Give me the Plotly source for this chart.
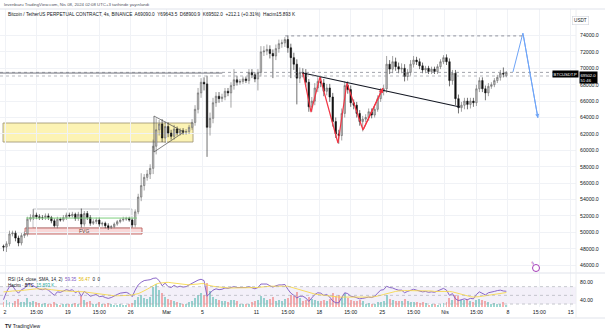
import plotly.graph_objects as go

# ---------------------------------------------------------------
# BTCUSDT.P (Binance perpetual) - 8-hour candles, 11 Feb 16:00 -> 7 Apr 16:00
# values in USDT, three candles per calendar day
# ---------------------------------------------------------------
first_open = 48300.0
last_open = 69090.0

closes = [
    48200,
    48600, 49800, 49900,    # 12 Feb
    49300, 48700, 49600,    # 13
    49800, 51600, 51800,    # 14
    52100, 51900, 51800,    # 15
    51800, 52000, 51800,    # 16
    51400, 50800, 51600,    # 17
    51500, 51800, 52100,    # 18
    52000, 52200, 51700,    # 19
    52200, 51000, 52300,    # 20
    51800, 51100, 51300,    # 21
    51500, 51000, 51100,    # 22
    50800, 50600, 50700,    # 23
    51000, 51300, 51500,    # 24
    51600, 51700, 51500,    # 25
    50900, 52500, 54300,    # 26
    55700, 56700, 57100,    # 27
    57800, 60500, 62500,    # 28
    63200, 61500, 62900,    # 29
    62100, 61700, 62600,    # 1 Mar
    62100, 62400, 62200,    # 2
    62300, 62800, 63400,    # 3
    65000, 67000, 68300,    # 4
    68100, 62800, 63900,    # 5
    65800, 66600, 66300,    # 6
    66500, 67200, 67000,    # 7
    67900, 68600, 68300,    # 8
    68400, 68700, 68500,    # 9
    69500, 69200, 68700,    # 10
    69500, 72000, 72100,    # 11
    72300, 71800, 71500,    # 12
    72400, 73000, 73100,    # 13
    73500, 72500, 71300,    # 14
    70500, 68800, 69500,    # 15
    69400, 68300, 65300,    # 16
    66000, 67600, 68400,    # 17
    68200, 67200, 67600,    # 18
    66500, 63500, 62000,    # 19
    61800, 64500, 67900,    # 20
    67400, 65800, 65500,    # 21
    64500, 63500, 63800,    # 22
    64000, 64700, 64300,    # 23
    65000, 66300, 67200,    # 24
    67500, 70500, 69900,    # 25
    70800, 70200, 69900,    # 26
    70000, 69000, 69500,    # 27
    70500, 71000, 70800,    # 28
    70300, 69800, 70000,    # 29
    69600, 69900, 69600,    # 30
    70200, 70800, 71300,    # 31
    70800, 68500, 69400,    # 1 Apr
    66300, 65200, 65500,    # 2
    66000, 65600, 66000,    # 3
    65800, 67500, 68500,    # 4
    67500, 67000, 67800,    # 5
    68000, 68500, 68900,    # 6
    69400, 69289.9, 69502,  # 7
]

# distance of the high above the body top / low below the body bottom
wick_up = [
    200,
    300, 400, 300,   300, 300, 300,   300, 300, 400,   700, 300, 300,
    300, 300, 300,   200, 300, 300,   200, 300, 300,   300, 300, 200,
    300, 700, 300,   300, 300, 300,   300, 300, 200,   200, 300, 200,
    200, 200, 200,   300, 200, 200,   200, 300, 400,   1500, 400, 500,
    500, 800, 1400,  500, 600, 600,                                      # 28-29 Feb
    500, 400, 500,   300, 300, 300,   300, 300, 400,   500, 600, 500,    # 1-4 Mar
    600, 1000, 700,  600, 500, 500,   400, 400, 400,   400, 1300, 500,   # 5-8
    300, 300, 300,   400, 400, 300,   400, 700, 600,   600, 500, 500,    # 9-12
    500, 500, 400,   300, 500, 500,   600, 600, 600,   500, 500, 400,    # 13-16
    500, 600, 500,   600, 500, 500,   500, 500, 500,   500, 600, 500,    # 17-20
    500, 500, 400,   400, 400, 400,   400, 400, 400,   300, 400, 400,    # 21-24
    500, 1000, 500,  700, 500, 500,   600, 500, 400,   500, 500, 400,    # 25-28
    400, 400, 300,   300, 300, 300,   300, 300, 300,                     # 29-31
    400, 400, 400,   400, 500, 400,   400, 400, 400,   400, 500, 400,    # 1-4 Apr
    400, 400, 400,   300, 300, 300,   400, 700, 141.5,                   # 5-7
]
wick_dn = [
    500,
    600, 300, 300,   400, 400, 300,   300, 300, 300,   300, 300, 300,
    300, 300, 300,   300, 200, 300,   200, 200, 300,   200, 200, 300,
    300, 400, 300,   300, 300, 200,   300, 300, 300,   300, 300, 200,
    200, 200, 200,   200, 200, 200,   300, 300, 300,   500, 600, 400,
    600, 700, 1000,  700, 500, 600,                                      # 28-29 Feb
    500, 400, 400,   300, 300, 300,   300, 300, 300,   400, 500, 600,    # 1-4 Mar
    800, 3600, 1000, 600, 500, 500,   400, 400, 400,   1800, 500, 400,   # 5-8
    300, 300, 300,   400, 400, 400,   1400, 500, 500,  500, 600, 2700,   # 9-12
    500, 500, 500,   500, 600, 2500,  700, 3200, 600,  500, 500, 600,    # 13-16
    600, 500, 500,   500, 600, 500,   600, 600, 500,   1000, 600, 500,   # 17-20
    500, 500, 500,   500, 500, 1200,  400, 400, 400,   300, 300, 400,    # 21-24
    500, 500, 600,   500, 500, 500,   500, 600, 500,   400, 400, 400,    # 25-28
    400, 400, 400,   300, 300, 300,   300, 300, 300,                     # 29-31
    400, 700, 500,   800, 700, 500,   500, 600, 500,   500, 400, 400,    # 1-4 Apr
    400, 900, 400,   300, 300, 300,   400, 400, 189.1,                   # 5-7
]

# volume, thousands of BTC per candle
volume_k = [
    45,
    60, 40, 35,   55, 70, 40,   45, 80, 40,   50, 40, 35,
    30, 35, 30,   25, 45, 30,   20, 25, 30,   30, 25, 35,
    30, 95, 60,   45, 50, 30,   30, 40, 25,   30, 35, 25,
    15, 20, 25,   15, 20, 25,   35, 60, 90,   110, 80, 70,
    90, 180, 200, 150, 120, 90,
    70, 60, 55,   40, 35, 30,   30, 40, 50,   80, 110, 120,
    110, 210, 140, 90, 70, 60,  50, 55, 45,   60, 65, 50,
    30, 30, 25,   30, 40, 50,   60, 100, 80,  60, 70, 90,
    55, 60, 50,   70, 80, 110,  100, 130, 80, 50, 60, 90,
    70, 60, 55,   50, 60, 55,   70, 120, 100, 110, 90, 120,
    80, 60, 55,   50, 60, 50,   30, 35, 30,   30, 40, 45,
    50, 110, 70,  60, 55, 50,   55, 70, 50,   45, 40, 40,
    35, 40, 35,   20, 25, 25,   20, 30, 35,
    45, 80, 60,   110, 100, 60, 60, 70, 50,   40, 60, 70,
    60, 55, 45,   30, 35, 30,   30, 40, 15.893,
]

# RSI(14) and its SMA(14)
rsi_vals = [
    40,
    58, 70, 72,   62, 55, 63,   66, 75, 76,   72, 67, 64,
    63, 65, 62,   57, 50, 58,   57, 60, 63,   61, 63, 56,
    60, 48, 59,   54, 48, 50,   52, 47, 48,   45, 43, 45,
    49, 52, 55,   56, 57, 54,   47, 62, 74,   80, 84, 85,
    86, 89, 90,   84, 72, 78,
    70, 68, 73,   69, 71, 69,   70, 74, 78,   82, 85, 87,
    84, 48, 55,   62, 65, 63,   64, 67, 66,   68, 70, 68,
    68, 69, 68,   70, 68, 65,   68, 76, 76,   76, 72, 69,
    72, 74, 74,   75, 64, 55,   50, 44, 48,   48, 44, 36,
    44, 52, 56,   55, 50, 52,   46, 37, 33,   33, 45, 56,
    54, 48, 47,   44, 42, 43,   44, 46, 45,   48, 55, 62,
    63, 71, 68,   67, 64, 62,   62, 56, 59,   62, 64, 62,
    60, 58, 59,   57, 58, 57,   60, 63, 66,
    62, 50, 54,   42, 38, 40,   42, 40, 43,   42, 52, 58,
    54, 51, 56,   57, 59, 61,   62, 60, 59.35,
]
rsi_sma = [
    58,
    58, 59, 60,   60, 61, 61,   62, 63, 64,   65, 65, 65,
    65, 64, 64,   63, 62, 61,   60, 60, 60,   59, 59, 59,
    59, 58, 58,   57, 56, 55,   54, 53, 52,   51, 50, 49,
    49, 49, 49,   50, 50, 50,   51, 52, 54,   57, 60, 64,
    68, 72, 76,   78, 79, 80,
    80, 79, 78,   77, 76, 75,   74, 74, 75,   75, 76, 77,
    77, 74, 72,   71, 70, 69,   68, 67, 67,   67, 67, 67,
    67, 67, 67,   67, 67, 67,   68, 69, 70,   71, 71, 71,
    71, 72, 72,   72, 71, 69,   67, 65, 63,   61, 58, 56,
    54, 53, 52,   51, 50, 50,   49, 48, 47,   46, 46, 46,
    46, 46, 46,   46, 45, 45,   45, 45, 46,   47, 48, 50,
    52, 54, 56,   58, 59, 60,   61, 61, 61,   61, 61, 61,
    61, 60, 60,   60, 60, 59,   59, 60, 60,
    60, 59, 58,   56, 54, 52,   50, 48, 47,   46, 46, 47,
    48, 49, 50,   51, 52, 53,   54, 55, 56.47,
]

# time axis: days after 12 Feb 00:00
tick_days = [0, 3.5, 7, 10.5, 14, 18, 22, 28, 31.5, 35, 38.5, 42, 45.5, 49, 52.5, 56, 59.5, 63]
tick_text = ["2", "15:00", "19", "15:00", "26", "Mar", "5", "11", "15:00", "18",
             "15:00", "25", "15:00", "Nis", "15:00", "8", "15:00", "15"]
price_ticks = list(range(46000, 74001, 2000))

# ---------------- user drawings (day, price anchors) ----------------
zone_days, zone_prices = [-0.22, 20.94], [61010, 63330]
triangle_days, triangle_prices = [16.59, 16.59, 19.93], [64180, 59790, 62230]
fvg_days, fvg_prices = [2.23, 15.26], [49790, 50530]
range_days, range_prices = [3.12, 14.14], [50530, 52840]
green_days, green_price = [2.34, 14.7], 51740
trend_days, trend_prices = [33.19, 50.67], [69430, 65280]
zigzag_days = [33.19, 34.08, 35.08, 37.08, 38.08, 39.87, 42.09]
zigzag_prices = [69430, 64670, 68940, 60890, 68210, 62480, 67600]
proj_days, proj_prices = [56.57, 57.68, 59.35], [69550, 74300, 63940]
ath_days, ath_price = [31.2, 57.7], 73950
ray_days, ray_price = [-0.6, 24.2], 69420
level_price = 69060

# ---------------------------------------------------------------
n = len(closes)
for arr in (wick_up, wick_dn, volume_k, rsi_vals, rsi_sma):
    assert len(arr) == n, (len(arr), n)

opens = [first_open] + closes[:-1]
opens[-1] = last_open
highs = [max(o, c) + u for o, c, u in zip(opens, closes, wick_up)]
lows = [min(o, c) - d for o, c, d in zip(opens, closes, wick_dn)]
cx = [-1 / 6 + i / 3 for i in range(n)]
vol_colors = ["rgba(38,166,154,0.45)" if c >= o else "rgba(239,83,80,0.45)"
              for o, c in zip(opens, closes)]

W, H = 605, 332
ML, MR, MT, MB = 0, 29, 9, 25
PW, PH = W - ML - MR, H - MT - MB


def fx(px):
    return (px - ML) / PW


def fy(py):
    return (H - MB - py) / PH


RSI_TOP = fy(273)
TXT = "#131722"
GRID = "#f0f2f6"
FONT = "Liberation Sans"

fig = go.Figure()

fig.add_trace(go.Bar(
    x=cx, y=volume_k, marker=dict(color=vol_colors, line=dict(width=0)),
    width=0.22, xaxis="x2", yaxis="y2", hoverinfo="skip", showlegend=False))

fig.add_trace(go.Candlestick(
    x=cx, open=opens, high=highs, low=lows, close=closes,
    increasing=dict(line=dict(color="#666666", width=0.6), fillcolor="#c4c4c4"),
    decreasing=dict(line=dict(color="#111111", width=0.6), fillcolor="#111111"),
    whiskerwidth=0, xaxis="x", yaxis="y", hoverinfo="skip", showlegend=False))

fig.add_trace(go.Scatter(
    x=cx, y=rsi_vals, mode="lines", line=dict(color="#7e57c2", width=0.9),
    xaxis="x2", yaxis="y3", hoverinfo="skip", showlegend=False))
fig.add_trace(go.Scatter(
    x=cx, y=rsi_sma, mode="lines", line=dict(color="#f7d94c", width=0.9),
    xaxis="x2", yaxis="y3", hoverinfo="skip", showlegend=False))

# red zig-zag, black trend line, blue projection
fig.add_trace(go.Scatter(
    x=zigzag_days, y=zigzag_prices, mode="lines", line=dict(color="#f23645", width=1.2),
    xaxis="x", yaxis="y", hoverinfo="skip", showlegend=False))
fig.add_trace(go.Scatter(
    x=trend_days, y=trend_prices, mode="lines", line=dict(color="#131722", width=1.1),
    xaxis="x", yaxis="y", hoverinfo="skip", showlegend=False))
fig.add_trace(go.Scatter(
    x=proj_days, y=proj_prices, mode="lines", line=dict(color="#6ea4f7", width=1),
    xaxis="x", yaxis="y", hoverinfo="skip", showlegend=False, cliponaxis=False))

shapes = []
# supply/demand zone
shapes.append(dict(type="rect", xref="x", yref="y", x0=zone_days[0], x1=zone_days[1],
                   y0=zone_prices[0], y1=zone_prices[1], fillcolor="rgba(251,236,140,0.65)",
                   line=dict(color="#9a9070", width=0.8), layer="below"))
# triangle
shapes.append(dict(type="path", xref="x", yref="y",
                   path="M {} {} L {} {} L {} {} Z".format(
                       triangle_days[0], triangle_prices[0], triangle_days[1], triangle_prices[1],
                       triangle_days[2], triangle_prices[2]),
                   line=dict(color="#4a4a4a", width=0.7), fillcolor="rgba(0,0,0,0)"))
# range box
shapes.append(dict(type="rect", xref="x", yref="y", x0=range_days[0], x1=range_days[1],
                   y0=range_prices[0], y1=range_prices[1],
                   line=dict(color="#9598a1", width=0.6), fillcolor="rgba(0,0,0,0)", layer="below"))
# FVG box
shapes.append(dict(type="rect", xref="x", yref="y", x0=fvg_days[0], x1=fvg_days[1],
                   y0=fvg_prices[0], y1=fvg_prices[1], fillcolor="rgba(248,206,206,0.8)",
                   line=dict(color="#b5524e", width=0.8), layer="below"))
# green level
shapes.append(dict(type="line", xref="x", yref="y", x0=green_days[0], x1=green_days[1],
                   y0=green_price, y1=green_price, line=dict(color="#7fcf7f", width=1)))
# all-time-high level
shapes.append(dict(type="line", xref="x", yref="y", x0=ath_days[0], x1=ath_days[1],
                   y0=ath_price, y1=ath_price, line=dict(color="#787b86", width=0.8, dash="dot")))
# horizontal ray on the left
shapes.append(dict(type="line", xref="x", yref="y", x0=ray_days[0], x1=ray_days[1],
                   y0=ray_price, y1=ray_price, line=dict(color="#50535e", width=0.8)))
# last price line and nearby level
shapes.append(dict(type="line", xref="paper", yref="y", x0=0, x1=1,
                   y0=closes[-1], y1=closes[-1], line=dict(color="#787b86", width=0.7, dash="dot")))
shapes.append(dict(type="line", xref="paper", yref="y", x0=0, x1=1,
                   y0=level_price, y1=level_price, line=dict(color="#9598a1", width=0.7, dash="dot")))
# RSI band
shapes.append(dict(type="rect", xref="paper", yref="y3", x0=0, x1=1, y0=30, y1=70,
                   fillcolor="rgba(126,87,194,0.09)", line=dict(width=0), layer="below"))
for lvl in (30, 50, 70):
    shapes.append(dict(type="line", xref="paper", yref="y3", x0=0, x1=1, y0=lvl, y1=lvl,
                       line=dict(color="#a3a6af", width=0.6, dash="dot")))
# frame lines
shapes.append(dict(type="line", xref="paper", yref="paper", x0=fx(0), x1=fx(W), y0=fy(9), y1=fy(9),
                   line=dict(color="#e0e3eb", width=1)))
shapes.append(dict(type="line", xref="paper", yref="paper", x0=fx(0), x1=fx(W), y0=fy(273), y1=fy(273),
                   line=dict(color="#e0e3eb", width=1)))
shapes.append(dict(type="line", xref="paper", yref="paper", x0=fx(0), x1=fx(W), y0=fy(318), y1=fy(318),
                   line=dict(color="#e0e3eb", width=1)))
shapes.append(dict(type="line", xref="paper", yref="paper", x0=1, x1=1, y0=fy(9), y1=fy(318),
                   line=dict(color="#eceef2", width=1)))
# event marker
shapes.append(dict(type="circle", xref="paper", yref="paper", xsizemode="pixel", ysizemode="pixel",
                   xanchor=fx(536), yanchor=fy(268), x0=-3.5, x1=3.5, y0=-3.5, y1=3.5,
                   line=dict(color="#9c27b0", width=0.9), fillcolor="#ffffff"))

annotations = []
# arrowheads on the drawings
annotations.append(dict(x=zigzag_days[-1], y=zigzag_prices[-1], ax=zigzag_days[-2], ay=zigzag_prices[-2],
                        xref="x", yref="y", axref="x", ayref="y", text="", showarrow=True,
                        arrowhead=2, arrowsize=0.8, arrowwidth=1.2, arrowcolor="#f23645", standoff=0))
annotations.append(dict(x=proj_days[-1], y=proj_prices[-1], ax=proj_days[-2], ay=proj_prices[-2],
                        xref="x", yref="y", axref="x", ayref="y", text="", showarrow=True,
                        arrowhead=2, arrowsize=0.8, arrowwidth=1, arrowcolor="#6ea4f7", standoff=0))
annotations.append(dict(x=(fvg_days[0] + fvg_days[1]) / 2, y=(fvg_prices[0] + fvg_prices[1]) / 2,
                        xref="x", yref="y", text="FVG", showarrow=False,
                        font=dict(size=5, color="#5d4037", family=FONT)))
annotations.append(dict(x=fx(536), y=fy(268), xref="paper", yref="paper", text="ϟ", showarrow=False,
                        font=dict(size=5, color="#9c27b0", family="DejaVu Sans")))

# header texts
annotations.append(dict(x=fx(2), y=fy(4.5), xref="paper", yref="paper", xanchor="left", yanchor="middle",
                        text="levenbuzu TradingView.com, Nis 08, 2024 02:08 UTC+3 tarihinde yayınlandı",
                        showarrow=False, font=dict(size=4.3, color="#50535e", family=FONT)))
ohlc = "A{:.1f}  Y{:.1f}  D{:.1f}  K{:.1f}  +212.1 (+0.31%)  Hacim{:.3f} K".format(
    opens[-1], highs[-1], lows[-1], closes[-1], volume_k[-1])
annotations.append(dict(x=fx(6), y=fy(15), xref="paper", yref="paper", xanchor="left", yanchor="middle",
                        text="Bitcoin / TetherUS PERPETUAL CONTRACT, 4s, BINANCE  " + ohlc,
                        showarrow=False, font=dict(size=4.7, color=TXT, family=FONT)))
annotations.append(dict(x=fx(6), y=fy(279), xref="paper", yref="paper", xanchor="left", yanchor="middle",
                        text="RSI (14, close, SMA, 14, 2)  <span style='color:#7e57c2'>{:.2f}</span>  "
                             "<span style='color:#e0b800'>{:.2f}</span>  0  0".format(rsi_vals[-1], rsi_sma[-1]),
                        showarrow=False, font=dict(size=4.5, color=TXT, family=FONT)))
annotations.append(dict(x=fx(6), y=fy(285.5), xref="paper", yref="paper", xanchor="left", yanchor="middle",
                        text="Hacim · BTC  <span style='color:#26a69a'>{:.3f} K</span>".format(volume_k[-1]),
                        showarrow=False, font=dict(size=4.5, color=TXT, family=FONT)))
# axis unit box
annotations.append(dict(x=fx(589), y=fy(16), xref="paper", yref="paper", text="USDT", showarrow=False,
                        font=dict(size=4.6, color=TXT, family=FONT), bgcolor="white",
                        bordercolor="#d1d4dc", borderwidth=0.6, borderpad=1.5))
# last price labels
annotations.append(dict(x=fx(579), y=fy(73.8), xref="paper", yref="paper", xanchor="right", yanchor="middle",
                        text="BTCUSDT.P", showarrow=False, bgcolor="#000000",
                        font=dict(size=4.2, color="white", family=FONT), borderpad=0.6))
annotations.append(dict(x=fx(579), y=fy(70.8), xref="paper", yref="paper", xanchor="left", yanchor="top",
                        text="{:.1f}<br>51:46".format(closes[-1]), showarrow=False, bgcolor="#000000",
                        font=dict(size=4.2, color="white", family=FONT), borderpad=0.5, align="left"))
# footer logo
annotations.append(dict(x=fx(3), y=fy(325.5), xref="paper", yref="paper", xanchor="left", yanchor="middle",
                        text="<b>TV</b> TradingView", showarrow=False,
                        font=dict(size=5, color="#131722", family=FONT)))

x_range = [-0.557, 63.59]

fig.update_layout(
    width=W, height=H, margin=dict(l=ML, r=MR, t=MT, b=MB),
    paper_bgcolor="white", plot_bgcolor="white", showlegend=False,
    font=dict(family=FONT, size=5.5, color=TXT),
    bargap=0,
    xaxis=dict(domain=[0, 1], range=x_range, anchor="y", tickvals=tick_days, showticklabels=False,
               showgrid=True, gridcolor=GRID, gridwidth=1, zeroline=False, ticks="",
               rangeslider=dict(visible=False), fixedrange=True),
    xaxis2=dict(domain=[0, 1], range=x_range, anchor="y2", matches="x", tickvals=tick_days,
                ticktext=tick_text, showgrid=True, gridcolor=GRID, zeroline=False, ticks="",
                tickfont=dict(size=5.2, color=TXT), ticklabelstandoff=1),
    yaxis=dict(domain=[RSI_TOP, 1], range=[45040, 77230], side="right", tickvals=price_ticks,
               ticktext=["{:.1f}".format(v) for v in price_ticks], showgrid=True, gridcolor=GRID,
               zeroline=False, ticks="", tickfont=dict(size=5.2, color=TXT), ticklabelstandoff=3),
    yaxis2=dict(domain=[0, RSI_TOP], range=[0, 300], visible=False, anchor="x2"),
    yaxis3=dict(overlaying="y2", range=[23.2, 101.4], side="right", anchor="x2",
                tickvals=[40, 80], ticktext=["40.00", "80.00"], showgrid=False, zeroline=False,
                ticks="", tickfont=dict(size=5.2, color=TXT), ticklabelstandoff=3),
    shapes=shapes, annotations=annotations,
)

fig.write_html("out.html", config={"displayModeBar": False})
